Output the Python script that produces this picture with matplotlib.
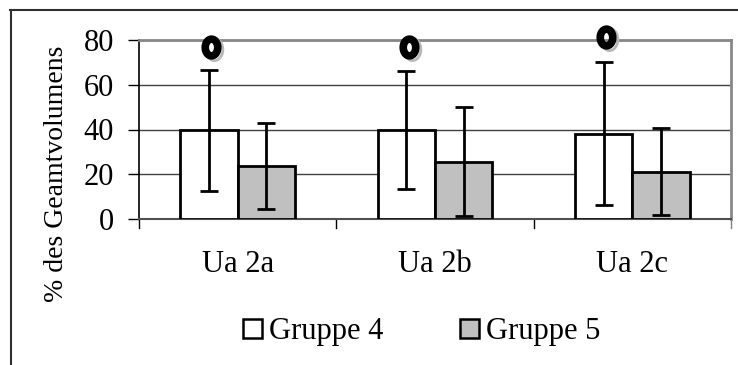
import matplotlib
matplotlib.use("Agg")
import matplotlib.pyplot as plt
import numpy as np
from matplotlib.patches import Patch
from matplotlib.lines import Line2D
from matplotlib.path import Path
import matplotlib.transforms as mtransforms

# Data
categories = ["Ua 2a", "Ua 2b", "Ua 2c"]
series = ["Gruppe 4", "Gruppe 5"]
means_g4 = [39.8, 39.8, 38.1]
means_g5 = [23.8, 25.5, 21.2]
err_low_g4 = [12.5, 13.3, 6.4]
err_high_g4 = [66.4, 66.1, 70.0]
err_low_g5 = [4.5, 1.3, 1.9]
err_high_g5 = [42.8, 49.9, 40.7]
outliers_g4 = [77.0, 77.0, 81.5]
yticks = [0, 20, 40, 60, 80]

plt.rcParams["font.family"] = ["Liberation Serif", "DejaVu Serif"]
FS = 22

fig = plt.figure(figsize=(7.38, 3.65), dpi=100)
ax = fig.add_axes([139 / 738, 1 - 219 / 365, (731 - 139) / 738, (219 - 40) / 365])

x = np.arange(len(categories))
w = 0.29
off = 0.145

colors = ["white", "#c0c0c0"]
means = [means_g4, means_g5]
lows = [err_low_g4, err_low_g5]
highs = [err_high_g4, err_high_g5]

for i, (m, lo, hi) in enumerate(zip(means, lows, highs)):
    xs = x + (-off if i == 0 else off)
    m = np.array(m)
    yerr = np.vstack([m - np.array(lo), np.array(hi) - m])
    ax.bar(xs, m, width=w, color=colors[i], edgecolor="black", linewidth=2.0, zorder=3)
    ax.errorbar(xs, m, yerr=yerr, fmt="none", ecolor="black", elinewidth=2.0,
                capsize=6.5, capthick=2.0, zorder=4)

# Outlier markers: thick oval ring with a faint grey shadow
t = np.linspace(0, 2 * np.pi, 60)
ring = Path(np.column_stack([0.75 * np.cos(t), np.sin(t)]), closed=True)
xo = x - off + 0.012
shadow_tr = ax.transData + mtransforms.ScaledTranslation(3 / 100, -2.5 / 100, fig.dpi_scale_trans)
ax.plot(xo, outliers_g4, linestyle="none", marker=ring, markersize=16,
        markerfacecolor="none", markeredgecolor="#b8b8b8", markeredgewidth=2.0,
        transform=shadow_tr, zorder=5, clip_on=False)
ax.plot(xo, outliers_g4, linestyle="none", marker=ring, markersize=12,
        markerfacecolor="none", markeredgecolor="black", markeredgewidth=5.5,
        zorder=6, clip_on=False)

ax.set_xlim(-0.5, 2.5)
ax.set_ylim(0, 80)
ax.set_yticks(yticks)
ax.set_yticklabels([str(v) for v in yticks], fontsize=FS)
ax.set_xticks(x)
ax.set_xticklabels(categories, fontsize=FS)
ax.tick_params(axis="x", length=0, pad=22)
ax.tick_params(axis="y", length=8, width=1.0, color="black", pad=10)

# category boundary ticks below the axis
for b in np.arange(-0.5, 3.0, 1.0):
    ax.plot([b, b], [0, -0.05], transform=ax.get_xaxis_transform(),
            color="black" if b < 2.4 else "#808080", lw=1.0, clip_on=False, zorder=2)

ax.yaxis.grid(True, color="#404040", linewidth=1.0, zorder=0)
ax.set_axisbelow(True)
for side in ["top", "right"]:
    ax.spines[side].set_color("#888888")
    ax.spines[side].set_linewidth(2.0)
ax.spines["left"].set_color("black")
ax.spines["left"].set_linewidth(1.2)
ax.spines["bottom"].set_color("#505050")
ax.spines["bottom"].set_linewidth(1.5)

fig.text(57 / 738, 1 - 174 / 365, "% des Geamtvolumens", rotation=90,
         ha="center", va="center", fontsize=20)

handles = [Patch(facecolor=c, edgecolor="black", linewidth=1.8) for c in colors]
fig.legend(handles, series, loc="center", bbox_to_anchor=(422 / 738, 1 - 332 / 365),
           ncol=2, frameon=False, fontsize=FS, handlelength=0.6, handleheight=0.6,
           handletextpad=0.25, columnspacing=2.5, borderaxespad=0)

# chart area frame (top and left edges)
fig.add_artist(Line2D([10 / 738, 1], [1 - 10 / 365, 1 - 10 / 365],
                      transform=fig.transFigure, color="#303030", lw=1.5))
fig.add_artist(Line2D([11 / 738, 11 / 738], [0, 1 - 10 / 365],
                      transform=fig.transFigure, color="#303030", lw=1.5))

fig.savefig("out.png", dpi=100)
